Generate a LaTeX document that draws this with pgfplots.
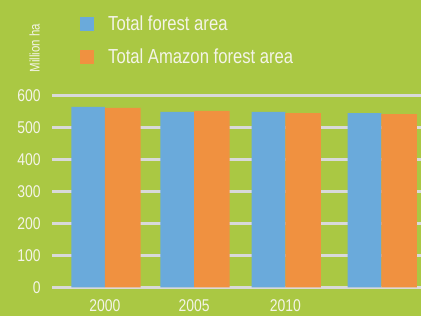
\documentclass[border=0pt]{standalone}
\usepackage{fontspec}
\setmainfont{Liberation Sans}[FakeStretch=0.82]
\usepackage{pgfplots}
\pgfplotsset{compat=1.18}
\definecolor{bg}{RGB}{170,200,67}
\definecolor{barblue}{RGB}{106,170,219}
\definecolor{barorange}{RGB}{240,145,64}
\definecolor{gridgray}{RGB}{217,217,217}
\definecolor{txt}{RGB}{244,244,232}
\begin{document}
\begin{tikzpicture}
\path[use as bounding box] (0,0) rectangle (421pt,316pt);
\clip (0,0) rectangle (421pt,316pt);
\fill[bg] (0,0) rectangle (421pt,316pt);
\begin{axis}[
  at={(52.35pt,28.7pt)}, anchor=south west,
  scale only axis, width=369.45pt, height=192pt,
  xmin=-0.585, xmax=3.52, ymin=0, ymax=600,
  axis line style={draw=none},
  ytick={0,100,...,600},
  xtick={0,0.989,2.003,3.07},
  xticklabels={2000,2005,2010,},
  major tick length=0pt,
  ymajorgrids,
  major grid style={gridgray, line width=2.5pt},
  ticklabel style={text=txt, font=\fontsize{17}{20}\selectfont},
  /pgf/number format/assume math mode=true,
  yticklabel style={inner sep=0pt, xshift=-11.6pt, anchor=east},
  xticklabel style={inner sep=0pt, yshift=-12pt, anchor=north},
  ylabel={Million ha},
  ylabel style={at={(rel axis cs:-0.048,1.245)}, anchor=center, font=\fontsize{14}{16}\selectfont, text=txt},
  legend style={draw=none, fill=none, at={(rel axis cs:0.0748,1.415)}, anchor=north west,
    inner sep=0pt, row sep=16.5pt, column sep=14pt, font=\fontsize{20.3}{23}\selectfont,
    text=txt, nodes={inner sep=0pt}},
  legend cell align=left,
  clip=false,
]
\addplot[ybar, bar width=33.6pt, bar shift=-16.8pt, fill=barblue, draw=none,
  legend image code/.code={\fill[barblue] (0pt,-7pt) rectangle (14pt,7pt);}]
  coordinates {(0,564) (0.989,548) (2.003,548) (3.07,544)};
\addplot[ybar, bar width=35.7pt, bar shift=17.85pt, fill=barorange, draw=none,
  legend image code/.code={\fill[barorange] (0pt,-7pt) rectangle (14pt,7pt);}]
  coordinates {(0,561) (0.989,551) (2.003,544) (3.07,541)};
\legend{Total forest area, Total Amazon forest area}
\end{axis}
\end{tikzpicture}
\end{document}
